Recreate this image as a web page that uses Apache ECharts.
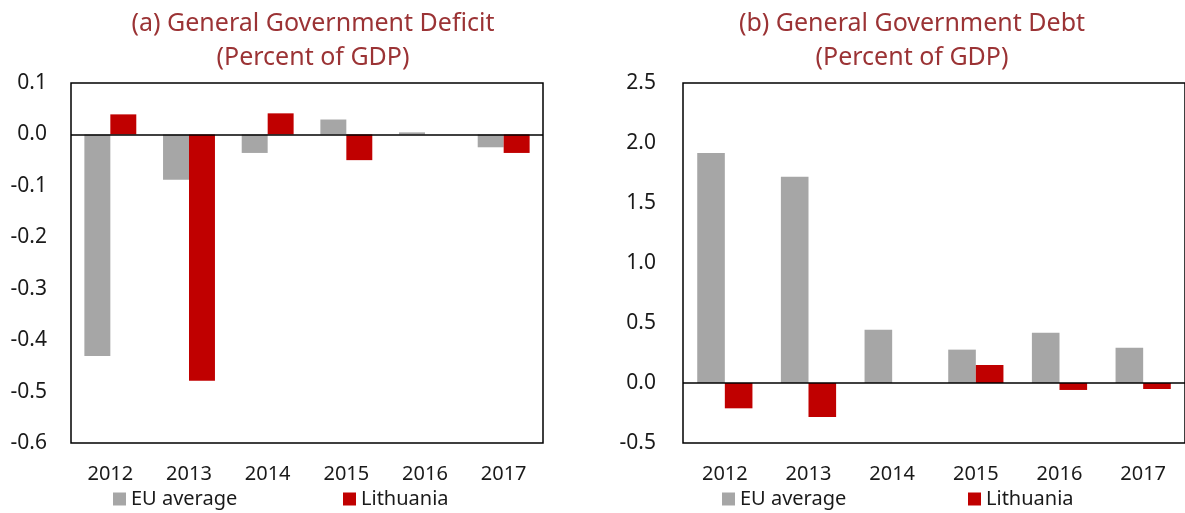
<!DOCTYPE html>
<html>
<head>
<meta charset="utf-8">
<script src="https://cdn.jsdelivr.net/npm/echarts@6/dist/echarts.min.js"></script>
<style>
  html, body { margin: 0; padding: 0; background: #fff; }
  #chart { width: 1185px; height: 513px; }
</style>
</head>
<body>
<div id="chart"></div>
<script>
// Fiscal changes: EU average vs Lithuania
const years = ['2012', '2013', '2014', '2015', '2016', '2017'];

const deficitEU = [-0.431, -0.088, -0.036, 0.029, 0.004, -0.025];
const deficitLT = [0.039, -0.479, 0.041, -0.050, 0.0, -0.036];

const debtEU = [1.917, 1.719, 0.444, 0.278, 0.419, 0.294];
const debtLT = [-0.211, -0.283, 0.0, 0.150, -0.058, -0.050];

const GRAY = '#a6a6a6';
const RED = '#c00000';
const TITLE = '#9b3335';
const FONT = '"Noto Sans", "Open Sans", sans-serif';

const chart = echarts.init(document.getElementById('chart'));

const zeroLine = {
  silent: true,
  symbol: 'none',
  label: { show: false },
  lineStyle: { color: '#000', width: 1.5, type: 'solid' },
  data: [{ yAxis: 0 }]
};

function xAxisFor(idx) {
  return {
    type: 'category',
    gridIndex: idx,
    data: years,
    axisLine: { show: false },
    axisTick: { show: false },
    axisLabel: { color: '#1a1a1a', fontSize: 20, fontFamily: FONT, margin: 21 }
  };
}

function yAxisFor(idx, min, max, step, margin) {
  return {
    type: 'value',
    gridIndex: idx,
    min: min,
    max: max,
    interval: step,
    splitLine: { show: false },
    axisLine: { show: false },
    axisTick: { show: false },
    axisLabel: {
      color: '#1a1a1a', fontSize: 21, fontFamily: FONT, margin: margin,
      formatter: v => v.toFixed(1)
    }
  };
}

function legendFor(name, left) {
  return {
    data: [name],
    left: left,
    top: 489,
    padding: 0,
    itemWidth: 13,
    itemHeight: 13,
    icon: 'rect',
    selectedMode: false,
    textStyle: { color: '#1a1a1a', fontSize: 20, fontFamily: FONT }
  };
}

const titleStyle = { color: TITLE, fontSize: 25, fontFamily: FONT, fontWeight: 'normal', lineHeight: 34 };

const option = {
  backgroundColor: '#fff',
  animation: false,
  title: [
    { text: '(a) General Government Deficit\n(Percent of GDP)', left: 308, top: 2, textAlign: 'center', textStyle: titleStyle },
    { text: '(b) General Government Debt\n(Percent of GDP)', left: 907, top: 2, textAlign: 'center', textStyle: titleStyle }
  ],
  legend: [
    legendFor('EU average', 113),
    legendFor('Lithuania', 343),
    legendFor('EU average', 722),
    legendFor('Lithuania', 968)
  ],
  grid: [
    { left: 71, top: 83, width: 472, height: 360, show: true, borderColor: '#000', borderWidth: 1.5, backgroundColor: 'transparent' },
    { left: 683, top: 83, width: 508, height: 360, show: true, borderColor: '#000', borderWidth: 1.5, backgroundColor: 'transparent' }
  ],
  xAxis: [xAxisFor(0), xAxisFor(1)],
  yAxis: [
    yAxisFor(0, -0.6, 0.1, 0.1, 24),
    yAxisFor(1, -0.5, 2.5, 0.5, 27)
  ],
  series: [
    {
      name: 'EU average', type: 'bar', xAxisIndex: 0, yAxisIndex: 0,
      data: deficitEU, itemStyle: { color: GRAY },
      barGap: '0%', barCategoryGap: '34%',
      markLine: zeroLine
    },
    {
      name: 'Lithuania', type: 'bar', xAxisIndex: 0, yAxisIndex: 0,
      data: deficitLT, itemStyle: { color: RED },
      barGap: '0%', barCategoryGap: '34%'
    },
    {
      name: 'EU average', type: 'bar', xAxisIndex: 1, yAxisIndex: 1,
      data: debtEU, itemStyle: { color: GRAY },
      barGap: '0%', barCategoryGap: '34%',
      markLine: zeroLine
    },
    {
      name: 'Lithuania', type: 'bar', xAxisIndex: 1, yAxisIndex: 1,
      data: debtLT, itemStyle: { color: RED },
      barGap: '0%', barCategoryGap: '34%'
    }
  ]
};

chart.setOption(option);
</script>
</body>
</html>
